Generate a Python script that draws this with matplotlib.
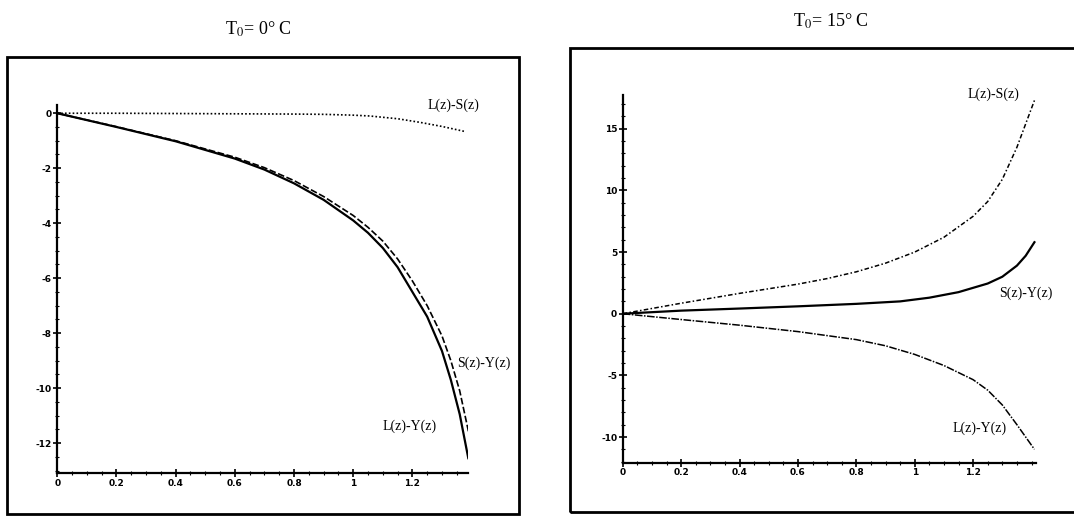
import matplotlib
matplotlib.use("Agg")
import matplotlib.pyplot as plt
from matplotlib.patches import Rectangle
from matplotlib.ticker import MultipleLocator

plt.rcParams['axes.unicode_minus'] = False
plt.rcParams['mathtext.fontset'] = 'stix'

# --- données ---
# T0 = 0 °C
z_ly_0 = [0, 0.2, 0.4, 0.6, 0.7, 0.8, 0.9, 1.0, 1.05, 1.1, 1.15, 1.2, 1.25, 1.3, 1.33, 1.36, 1.389]
ly_0 = [0, -0.5, -1.02, -1.65, -2.05, -2.55, -3.15, -3.9, -4.35, -4.9, -5.6, -6.5, -7.4, -8.65, -9.7, -10.95, -12.55]
z_sy_0 = [0, 0.2, 0.4, 0.6, 0.7, 0.8, 0.9, 1.0, 1.05, 1.1, 1.15, 1.2, 1.25, 1.3, 1.33, 1.36, 1.39]
sy_0 = [0, -0.49, -1.0, -1.6, -1.98, -2.45, -3.03, -3.72, -4.15, -4.65, -5.3, -6.1, -7.0, -8.1, -9.0, -10.1, -11.6]
z_ls_0 = [0, 0.2, 0.4, 0.6, 0.8, 0.9, 1.0, 1.056, 1.15, 1.225, 1.3, 1.38]
ls_0 = [0, 0, -0.01, -0.02, -0.03, -0.04, -0.07, -0.1, -0.2, -0.33, -0.48, -0.67]

# T0 = 15 °C
z_ls_15 = [0, 0.2, 0.4, 0.6, 0.7, 0.8, 0.9, 1.0, 1.1, 1.2, 1.25, 1.3, 1.35, 1.41]
ls_15 = [0, 0.85, 1.65, 2.4, 2.85, 3.4, 4.1, 5.0, 6.2, 7.9, 9.1, 10.9, 13.5, 17.3]
z_sy_15 = [0, 0.2, 0.4, 0.6, 0.8, 0.95, 1.05, 1.15, 1.25, 1.3, 1.35, 1.38, 1.41]
sy_15 = [0, 0.25, 0.42, 0.6, 0.8, 1.0, 1.3, 1.75, 2.45, 3.0, 3.9, 4.7, 5.8]
z_ly_15 = [0, 0.2, 0.4, 0.6, 0.8, 0.9, 1.0, 1.1, 1.2, 1.25, 1.3, 1.35, 1.41]
ly_15 = [0, -0.47, -0.93, -1.45, -2.1, -2.6, -3.3, -4.2, -5.35, -6.2, -7.4, -9.0, -11.0]

x_ticks = [0, 0.2, 0.4, 0.6, 0.8, 1, 1.2]
x_labels = ["0", "0.2", "0.4", "0.6", "0.8", "1", "1.2"]

W, H = 1074, 518
fig = plt.figure(figsize=(W / 100, H / 100), dpi=100)

def px_axes(x0, x1, ytop, ybot):
    return fig.add_axes([x0 / W, 1 - ybot / H, (x1 - x0) / W, (ybot - ytop) / H])

def style(ax, ymajor, yminor):
    for s in ['top', 'right']:
        ax.spines[s].set_visible(False)
    for s in ['left', 'bottom']:
        ax.spines[s].set_linewidth(1.6)
    ax.set_xticks(x_ticks)
    ax.set_xticklabels(x_labels)
    ax.xaxis.set_minor_locator(MultipleLocator(0.05))
    ax.yaxis.set_major_locator(MultipleLocator(ymajor))
    ax.yaxis.set_minor_locator(MultipleLocator(yminor))
    ax.tick_params(which='major', direction='inout', length=6, width=1.2,
                   labelsize=6.5, pad=1)
    ax.tick_params(which='minor', direction='inout', length=3, width=0.8)
    for lab in ax.get_xticklabels() + ax.get_yticklabels():
        lab.set_fontweight('bold')
    ax.patch.set_alpha(0)

serif = 'Liberation Serif'
lab_kw = dict(fontsize=10, family=serif, va='center', ha='left', clip_on=False)

# --- panneau gauche ---
ax1 = px_axes(57.3, 468, 105, 473.3)
ax1.set_xlim(0, 1.388)
ax1.set_ylim(-13.1, 0.3)
ax1.plot(z_ls_0, ls_0, color='black', lw=1.2, ls=(0, (1, 1.3)))
ax1.plot(z_sy_0, sy_0, color='black', lw=1.2, ls=(0, (4, 1.5)))
ax1.plot(z_ly_0, ly_0, color='black', lw=1.6)
style(ax1, 2, 0.5)
ax1.text(1.25, 0.3, "L(z)-S(z)", **lab_kw)
ax1.text(1.35, -9.1, "S(z)-Y(z)", **lab_kw)
ax1.text(1.10, -11.4, "L(z)-Y(z)", **lab_kw)
fig.text(258 / W, 1 - 29 / H, "T$_0$= 0° C", family=serif,
         fontsize=13, ha='center', va='center')

# --- panneau droit ---
ax2 = px_axes(622.7, 1035.6, 95.5, 462.9)
ax2.set_xlim(0, 1.414)
ax2.set_ylim(-12.1, 17.7)
ax2.plot(z_ls_15, ls_15, color='black', lw=1.1, ls=(0, (3, 1.5, 1, 1.5)))
ax2.plot(z_sy_15, sy_15, color='black', lw=1.6)
ax2.plot(z_ly_15, ly_15, color='black', lw=1.1, ls=(0, (5, 1, 1, 1)))
style(ax2, 5, 1)
ax2.text(1.18, 17.8, "L(z)-S(z)", **lab_kw)
ax2.text(1.29, 1.7, "S(z)-Y(z)", **lab_kw)
ax2.text(1.13, -9.3, "L(z)-Y(z)", **lab_kw)
fig.text(831 / W, 1 - 21 / H, "T$_0$= 15° C", family=serif,
         fontsize=13, ha='center', va='center')

# cadres
for x0, y0, x1, y1 in [(7, 57, 519, 514), (570, 48, 1080, 512)]:
    fig.add_artist(Rectangle((x0 / W, 1 - y1 / H), (x1 - x0) / W, (y1 - y0) / H,
                             transform=fig.transFigure, fill=False,
                             lw=2.0, ec='black'))

fig.savefig("out.png", dpi=100)
